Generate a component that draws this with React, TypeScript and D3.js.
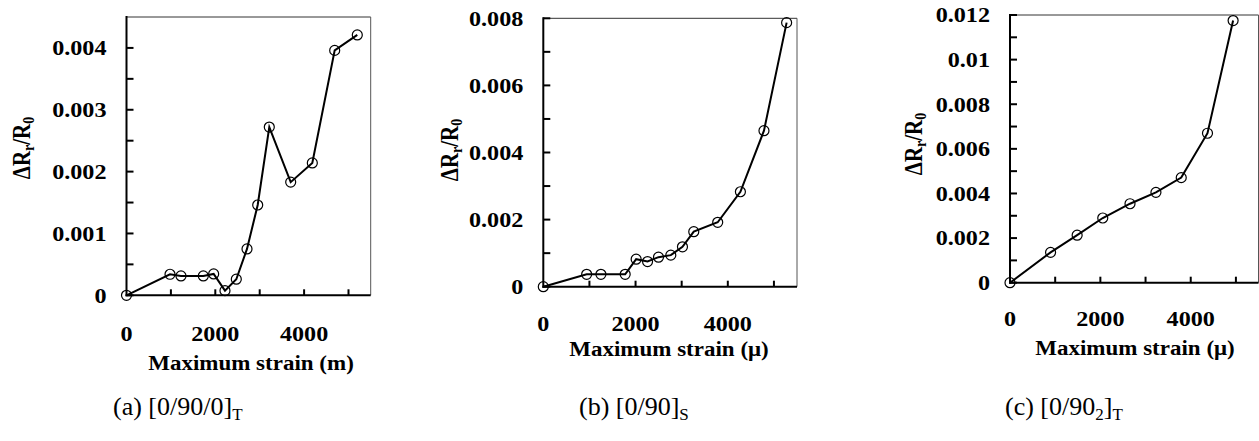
import React from 'react';
import * as d3 from 'd3';

// ---- data ----
const strainA = [0, 980, 1227, 1730, 1963, 2218, 2473, 2714, 2955, 3216, 3698, 4185, 4689, 5198];
const resA = [0, 0.00034, 0.000313, 0.000313, 0.000345, 0.000075, 0.00026, 0.00075, 0.00146, 0.00272, 0.00183, 0.00214, 0.00396, 0.00421];

const strainB = [0, 940, 1249, 1775, 2013, 2260, 2497, 2764, 3017, 3262, 3781, 4273, 4784, 5275];
const resB = [0, 0.00037, 0.00037, 0.00037, 0.00082, 0.00075, 0.00088, 0.00094, 0.00119, 0.00164, 0.00192, 0.00283, 0.00465, 0.00787];

const strainC = [0, 898, 1486, 2053, 2656, 3230, 3790, 4371, 4938];
const resC = [0, 0.00136, 0.00213, 0.0029, 0.00354, 0.00405, 0.00471, 0.0067, 0.01175];

const xTickValues = [0, 1000, 2000, 3000, 4000, 5000];
const xTickLabels = ['0', '', '2000', '', '4000', ''];

const yTicksA = [0, 0.001, 0.002, 0.003, 0.004];
const yLabelsA = ['0', '0.001', '0.002', '0.003', '0.004'];
const yMinorA = [0.0005, 0.0015, 0.0025, 0.0035];

const yTicksB = [0, 0.002, 0.004, 0.006, 0.008];
const yLabelsB = ['0', '0.002', '0.004', '0.006', '0.008'];
const yMinorB = [0.001, 0.003, 0.005, 0.007];

const yTicksC = [0, 0.002, 0.004, 0.006, 0.008, 0.01, 0.012];
const yLabelsC = ['0', '0.002', '0.004', '0.006', '0.008', '0.01', '0.012'];
const yMinorC = [0.001, 0.003, 0.005, 0.007, 0.009, 0.011];

const xTitles = ['Maximum strain (m)', 'Maximum strain (\u03bc)', 'Maximum strain (\u03bc)'];
const captionMain = ['(a) [0/90/0]', '(b) [0/90]', '(c) [0/90'];
const captionSub = ['T', 'S', '2'];
const captionTail = ['', '', ']'];
const captionSub2 = ['', '', 'T'];

const FONT = '"Liberation Serif", "Times New Roman", serif';
const SX = 1.15;

type PanelProps = {
  left: number; right: number; top: number; bottom: number;
  xMax: number; yMax: number;
  xs: number[]; ys: number[];
  yTicks: number[]; yLabels: string[]; yMinor: number[];
  xTitle: string; xTitlePos: [number, number];
  yTitlePos: [number, number];
  xLabelOffset: number;
  cap: { x: number; y: number; main: string; sub: string; tail: string; sub2: string };
};

function Panel(p: PanelProps) {
  const x = d3.scaleLinear().domain([0, p.xMax]).range([p.left, p.right]);
  const y = d3.scaleLinear().domain([0, p.yMax]).range([p.bottom, p.top]);
  const pts: [number, number][] = p.xs.map((v, i) => [v, p.ys[i]]);
  const line = d3.line<[number, number]>().x(d => x(d[0])).y(d => y(d[1]));
  const tickLen = 7;
  return (
    <g fontFamily={FONT}>
      {/* thin top/right border */}
      <line x1={p.left} x2={p.right} y1={p.top} y2={p.top} stroke="#333" strokeWidth={1} />
      <line x1={p.right} x2={p.right} y1={p.top} y2={p.bottom} stroke="#555" strokeWidth={1} />
      {/* left & bottom axes */}
      <line x1={p.left} x2={p.left} y1={p.top - 1} y2={p.bottom + 1} stroke="#000" strokeWidth={2} />
      <line x1={p.left - 1} x2={p.right} y1={p.bottom} y2={p.bottom} stroke="#000" strokeWidth={2} />
      {/* y ticks */}
      {p.yTicks.map((t, i) => (
        <g key={'yt' + i}>
          <line x1={p.left} x2={p.left + tickLen} y1={y(t)} y2={y(t)} stroke="#000" strokeWidth={2} />
          <text transform={`translate(${p.left - 20},${y(t)}) scale(${SX},1)`} textAnchor="end" dy="0.35em"
            fontSize={21} fontWeight="bold">{p.yLabels[i]}</text>
        </g>
      ))}
      {p.yMinor.map((t, i) => (
        <line key={'ym' + i} x1={p.left} x2={p.left + tickLen} y1={y(t)} y2={y(t)} stroke="#000" strokeWidth={2} />
      ))}
      {/* x ticks */}
      {xTickValues.map((t, i) => (
        <g key={'xt' + i}>
          {t > 0 && <line x1={x(t)} x2={x(t)} y1={p.bottom} y2={p.bottom - tickLen + 1} stroke="#000" strokeWidth={2} />}
          {xTickLabels[i] && (
            <text transform={`translate(${x(t)},${p.bottom + p.xLabelOffset}) scale(${SX},1)`} textAnchor="middle" dy="0.35em"
              fontSize={21} fontWeight="bold">{xTickLabels[i]}</text>
          )}
        </g>
      ))}
      {/* data */}
      <path d={line(pts) || ''} fill="none" stroke="#000" strokeWidth={2} />
      {pts.map((d, i) => (
        <circle key={'c' + i} cx={x(d[0])} cy={y(d[1])} r={5} fill="none" stroke="#000" strokeWidth={1.2} />
      ))}
      {/* titles */}
      <text transform={`translate(${p.xTitlePos[0]},${p.xTitlePos[1]}) scale(${SX},1)`} textAnchor="middle" dy="0.35em"
        fontSize={20} fontWeight="bold">{p.xTitle}</text>
      <text transform={`translate(${p.yTitlePos[0]},${p.yTitlePos[1]}) scale(${SX},1) rotate(-90)`} textAnchor="middle" dy="0.35em"
        fontSize={21} fontWeight="bold">
        {'\u0394R'}<tspan fontSize={14} dy="3">r</tspan><tspan dy="-3">/R</tspan><tspan fontSize={14} dy="3">0</tspan>
      </text>
      {/* caption */}
      <text transform={`translate(${p.cap.x},${p.cap.y})`} fontSize={26}>
        {p.cap.main}<tspan fontSize={17} dy="5">{p.cap.sub}</tspan>
        {p.cap.tail && <tspan dy="-5">{p.cap.tail}</tspan>}
        {p.cap.sub2 && <tspan fontSize={17} dy="5">{p.cap.sub2}</tspan>}
      </text>
    </g>
  );
}

export default function App() {
  const caps = [0, 1, 2].map(i => ({
    main: captionMain[i], sub: captionSub[i], tail: captionTail[i], sub2: captionSub2[i],
  }));
  return (
    <svg width={1259} height={441} style={{ position: 'fixed', left: 0, top: 0, background: '#fff' }}>
      <rect x={0} y={0} width={1259} height={441} fill="#fff" />
      <Panel left={126.5} right={370.7} top={17} bottom={295.3} xMax={5500} yMax={0.0045}
        xs={strainA} ys={resA} yTicks={yTicksA} yLabels={yLabelsA} yMinor={yMinorA}
        xTitle={xTitles[0]} xTitlePos={[251, 363]} yTitlePos={[22, 148]} xLabelOffset={38}
        cap={{ x: 113, y: 415, ...caps[0] }} />
      <Panel left={543.3} right={797} top={18.3} bottom={286.7} xMax={5500} yMax={0.008}
        xs={strainB} ys={resB} yTicks={yTicksB} yLabels={yLabelsB} yMinor={yMinorB}
        xTitle={xTitles[1]} xTitlePos={[669, 349]} yTitlePos={[450, 150]} xLabelOffset={37}
        cap={{ x: 579, y: 415, ...caps[1] }} />
      <Panel left={1010} right={1258.5} top={15} bottom={282.7} xMax={5500} yMax={0.012}
        xs={strainC} ys={resC} yTicks={yTicksC} yLabels={yLabelsC} yMinor={yMinorC}
        xTitle={xTitles[2]} xTitlePos={[1135, 348]} yTitlePos={[914, 144]} xLabelOffset={36}
        cap={{ x: 1005, y: 415, ...caps[2] }} />
    </svg>
  );
}
